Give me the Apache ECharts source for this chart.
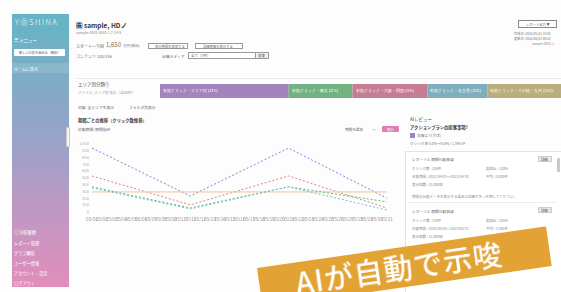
<!DOCTYPE html>
<html><head><meta charset="utf-8">
<script src="https://cdn.jsdelivr.net/npm/echarts@6/dist/echarts.min.js"></script>
<style>
html,body{margin:0;padding:0;width:561px;height:292px;overflow:hidden;background:#fdfdfd;font-family:"Noto Sans CJK JP","Noto Sans",sans-serif;}
.a{position:absolute;white-space:nowrap;line-height:1;transform-origin:0 0;font-size:10px;}
#side{position:absolute;left:12px;top:14px;width:57px;height:273px;background:linear-gradient(#63b5c5 0%,#86a9c6 30%,#9ea1c8 50%,#c397c2 75%,#e18dba 100%);}
#banner{position:absolute;left:257px;top:268px;width:292px;height:40px;background:#e2a234;transform-origin:0 0;transform:rotate(-8.2deg);}
</style></head><body>
<div id="side"></div>
<div id="ui"></div>
<div id="bar" style="position:absolute;left:160px;top:84px;width:401px;height:14px;"></div>
<div id="line" style="position:absolute;left:76px;top:136px;width:320px;height:92px;"></div>
<div id="banner"><div class="a" style="left:36px;top:5px;font-size:29px;color:#fff;font-weight:500;letter-spacing:1px;">AIが自動で示唆</div></div>
<script>
// ---- data ----
var dates = [];
for (var d = 1; d <= 31; d++) { dates.push('05/' + (d < 10 ? '0' + d : d)); }
var keyIndex = [0, 10, 20, 30];
var seriesNames = ['大阪エリア', '東京エリア', '平均', '名古屋エリア', '福岡エリア'];
var blueVals = [940, 235, 940, 205];
var redVals = [530, 105, 530, 60];
var avgVals = [295, 295, 295, 295];
var greenVals = [370, 60, 370, 150];
var tealVals = [355, 45, 370, 30];
var seriesColors = ['#8b80d8', '#d98282', '#ecc49a', '#5fb87c', '#6cc3d3'];
var yTicks = {min: 0, max: 1000, interval: 100};
var segNames = ['有効クリック・エリア別 (43%)', '有効クリック・東京 (21%)', '有効クリック・大阪・関西 (25%)', '有効クリック・名古屋 (20%)', '有効クリック・その他・九州 (25%)'];
var segVals = [129, 64, 75, 60, 74];
var segColors = ['#a384bc', '#72b381', '#c67c92', '#7eaec0', '#b9ae7c'];

// ---- static UI ----
var ui = document.getElementById('ui');
function t(x, y, s, fs, col, fw) {
  var e = document.createElement('div'); e.className = 'a';
  e.style.left = x + 'px'; e.style.top = y + 'px';
  e.style.transform = 'scale(' + (fs / 10) + ')';
  e.style.color = col || '#555'; if (fw) e.style.fontWeight = fw;
  e.textContent = s; ui.appendChild(e); return e;
}
function r(x, y, w, h, bg, bd, rad) {
  var e = document.createElement('div'); e.style.position = 'absolute';
  e.style.left = x + 'px'; e.style.top = y + 'px'; e.style.width = w + 'px'; e.style.height = h + 'px';
  e.style.boxSizing = 'border-box';
  if (bg) e.style.background = bg; if (bd) e.style.border = '1px solid ' + bd; if (rad) e.style.borderRadius = rad + 'px';
  ui.appendChild(e); return e;
}
// sidebar
var logo = t(15, 18, 'Y❀SHINA', 7.5, '#fff', 300); logo.style.letterSpacing = '2px';
t(14, 38, '☰ メニュー', 4.5, '#fff');
r(14, 49, 51, 7, '#fff', null, 1);
t(19, 51, '新しい分析を始める（無料）', 3.2, '#555');
r(12, 63, 57, 10, 'rgba(255,255,255,0.12)');
t(14, 67, 'ホームに戻る', 4, '#fff');
var menu = ['◎ 分析履歴', 'レポート管理', 'グラフ解析', 'ユーザー情報', 'アカウント・設定', 'ログアウト'];
var my = [230, 241, 251, 261, 271, 281];
for (var i = 0; i < menu.length; i++) t(14, my[i], menu[i], 4.2, '#fff');
r(66, 127, 4, 20, '#f4f4f4', '#ccc', 1);
// header
t(76, 22, '㈱ sample, HDノ', 6.5, '#333', 700);
t(76, 31, 'sample-0001-0001-1 2 3 4 5', 3.6, '#888');
t(76, 44, 'スタート〜今回', 4, '#666');
t(106, 42, '1,650', 6, '#8a6a3a');
t(123, 44, '万円(税込)', 3.6, '#777');
r(148, 43, 40, 6, '#fff', '#999'); t(155, 44.5, '表示期間を変更する', 3.3, '#666');
r(195, 43, 48, 6, '#fff', '#999'); t(203, 44.5, '詳細情報を表示する', 3.3, '#666');
t(76, 54, 'コンテンツ 128/156', 4, '#666');
t(162, 55, '出稿メディア', 3.8, '#666');
r(188, 52, 68, 7, '#fff', '#999'); t(191, 54, '全て（3件）', 3.5, '#666');
r(255, 52, 14, 7, '#eee', '#999'); t(258, 54, '変更', 3.5, '#555');
r(518, 20, 39, 8, '#fff', '#888'); t(526, 22.5, 'レポート出力 ▼', 3.3, '#555');
t(514, 32, '作成日: 2023/05/31 15:42', 3.2, '#777');
t(514, 37, '更新日: 2023/06/01 09:10', 3.2, '#777');
t(532, 42, 'sample-0001-1', 3.2, '#888');
r(76, 78, 485, 1, '#e8e8e8');
// section
t(78, 82, 'エリア別分類①', 4.5, '#555');
t(78, 91, 'ファイル: エリア別 集計（全50件）', 3.6, '#999');
t(78, 106, '対象: 全エリアを表示', 3.8, '#666');
t(129, 106, 'フォルダ別表示', 3.8, '#666');
t(78, 118, '期間ごとの推移（クリック数推移）', 4.3, '#444', 700);
t(78, 128, '対象期間: 期間指定', 3.8, '#666');
t(345, 128, '期間を選択', 3.6, '#666');
t(372, 128, '〜', 3.8, '#888');
r(382, 126, 17, 6, '#e07eb2', null, 1); t(387, 127.5, '表示', 3.3, '#fff');
// right panel
t(410, 117, 'AIレビュー', 4.5, '#444');
t(410, 125, 'アクションプランの提案事項?', 4.3, '#333', 700);
r(410, 133, 5, 5, '#9b84c6');
t(417, 133.5, '大阪エリア(3)', 3.8, '#555');
t(410, 142, 'クリック率 5.0%→8.0% / 1.5%UP', 3.6, '#777');
r(405, 151, 160, 150, '#fff', '#e2e2e2');
r(557, 158, 3, 14, '#c8c8c8', null, 1);
t(412, 158, 'レポート1: 期間比較結果', 3.8, '#666');
r(538, 156, 14, 6, '#e6e6e6', '#ccc'); t(541, 157.5, '詳細', 3.3, '#555');
t(412, 167, 'クリック数 : 250件', 3.5, '#888'); t(486, 167, '前回比 : 120%', 3.5, '#888');
t(412, 175, '対象期間 : 2023/04/01〜2023/04/30', 3.5, '#888'); t(486, 175, '平均 : 8,000件', 3.5, '#888');
t(412, 183, '表示回数 : 15,000回', 3.5, '#888');
t(412, 195, '期間の比較データを表示する場合は詳細ボタンを押してください。', 3.5, '#888');
r(408, 202, 148, 1, '#eee');
t(412, 210, 'レポート2: 期間比較結果', 3.8, '#666');
r(538, 207, 14, 6, '#e6e6e6', '#ccc'); t(541, 208.5, '詳細', 3.3, '#555');
t(412, 219, 'クリック数 : 310件', 3.5, '#888'); t(486, 219, '前回比 : 105%', 3.5, '#888');
t(412, 227, '対象期間 : 2023/05/01〜2023/05/31', 3.5, '#888'); t(486, 227, '平均 : 7,500件', 3.5, '#888');
t(412, 235, '表示回数 : 12,000回', 3.5, '#888');
t(486, 262, '平均 : 6,900件', 3.5, '#888');

// ---- stacked bar ----
var bar = echarts.init(document.getElementById('bar'), null, {renderer: 'canvas'});
var total = segVals.reduce(function (a, b) { return a + b; }, 0);
bar.setOption({
  animation: false,
  grid: {left: 0, right: 0, top: 0, bottom: 0},
  xAxis: {type: 'value', min: 0, max: total, show: false},
  yAxis: {type: 'category', data: ['seg'], show: false},
  series: segVals.map(function (v, i) {
    return {type: 'bar', stack: 's', name: segNames[i], data: [v], barWidth: '100%',
      itemStyle: {color: segColors[i]},
      label: {show: true, position: 'insideLeft', color: '#fff', fontSize: 3.6, distance: 3,
        formatter: segNames[i]}};
  })
});

// ---- line chart ----
function place(vals) {
  var arr = dates.map(function () { return null; });
  keyIndex.forEach(function (k, i) { arr[k] = vals[i]; });
  return arr;
}
var allVals = [blueVals, redVals, avgVals, greenVals, tealVals];
var line = echarts.init(document.getElementById('line'), null, {renderer: 'canvas'});
line.setOption({
  animation: false,
  grid: {left: 12, right: 8, top: 8, bottom: 16},
  xAxis: {type: 'category', data: dates, boundaryGap: false,
    axisLine: {show: false}, axisTick: {show: false}, splitLine: {show: false},
    axisLabel: {interval: 0, fontSize: 5, color: '#a8a8a8', margin: 5}},
  yAxis: {type: 'value', min: yTicks.min, max: yTicks.max, interval: yTicks.interval,
    axisLine: {show: false}, axisTick: {show: false}, splitLine: {show: false},
    axisLabel: {fontSize: 4, color: '#aaa', margin: 3}},
  series: allVals.map(function (vals, i) {
    return {type: 'line', name: seriesNames[i], data: place(vals), connectNulls: true,
      showSymbol: false, color: seriesColors[i],
      lineStyle: {width: 1, color: seriesColors[i], type: i === 2 ? 'solid' : [2, 2]}};
  })
});
</script>
</body></html>
